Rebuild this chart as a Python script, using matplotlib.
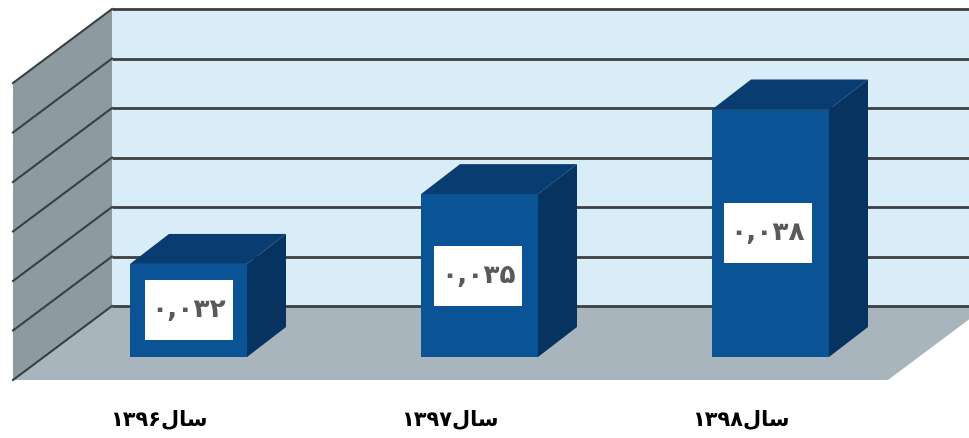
"""Pseudo-3D bar chart with three yearly values on a light blue wall."""

import numpy as np
import matplotlib
matplotlib.use("Agg")
import matplotlib.pyplot as plt
from matplotlib.patches import Polygon, Rectangle


# Persian text is written in visual order with presentation forms,
# because matplotlib does not shape Arabic script by itself.
YEAR_WORD = "\ufedd\ufe8e\ufeb3"
year_labels = ["۱۳۹۶", "۱۳۹۷", "۱۳۹۸"]
value_labels = ["۰,۰۳۲", "۰,۰۳۵", "۰,۰۳۸"]
# Bar heights as drawn, in gridline steps. They are not linear in the labels.
bar_heights = [1.88, 3.29, 5.0]
grid_levels = [0, 1, 2, 3, 4, 5, 6]

# Axes scale: one category = 291 px, one gridline step = 49.5 px.
X_UNIT, Y_UNIT = 291.0, 49.5
WIDTH, HEIGHT = 970, 438
BASE_X, BASE_Y = 188.5, 357.0

BAR_WIDTH = 117 / X_UNIT
BAR_DX, BAR_DY = 39 / X_UNIT, 30 / Y_UNIT
FLOOR_FRONT = (BASE_Y - 380) / Y_UNIT
FLOOR_BACK = (BASE_Y - 306) / Y_UNIT
WALL_LEFT = (13 - BASE_X) / X_UNIT
WALL_BACK = (112 - BASE_X) / X_UNIT
FLOOR_RIGHT = (888 - BASE_X) / X_UNIT
WALL_DX = WALL_BACK - WALL_LEFT
BOX_W, BOX_H = 88 / X_UNIT, 60 / Y_UNIT
BOX_DRIFT = 1.25 / X_UNIT  # white boxes sit a little left of the bar centres

BACK_COLOR = "#d9edf9"
SIDE_WALL_COLOR = "#8d9ba1"
FLOOR_COLOR = "#a8b5bc"
GRID_COLOR = "#3b3f42"
BAR_FRONT = "#0a5395"
BAR_TOP = "#093d72"
BAR_SIDE = "#06335f"
VALUE_COLOR = "#595959"

plt.rcParams["font.family"] = ["DejaVu Sans"]

fig = plt.figure(figsize=(WIDTH / 100, HEIGHT / 100), dpi=100)
ax = fig.add_axes([0, 0, 1, 1])
ax.set_xlim(-BASE_X / X_UNIT, (WIDTH - BASE_X) / X_UNIT)
ax.set_ylim((BASE_Y - HEIGHT) / Y_UNIT, BASE_Y / Y_UNIT)
ax.axis("off")

positions = np.arange(len(bar_heights))
wall_top = FLOOR_BACK + grid_levels[-1]
wall_height = wall_top - FLOOR_BACK

# walls and floor
ax.add_patch(Rectangle((WALL_BACK, FLOOR_BACK), FLOOR_RIGHT + WALL_DX - WALL_BACK,
                       wall_height, fc=BACK_COLOR, ec="none", zorder=1))
ax.add_patch(Polygon([(WALL_LEFT, FLOOR_FRONT), (WALL_BACK, FLOOR_BACK),
                      (WALL_BACK, wall_top), (WALL_LEFT, FLOOR_FRONT + grid_levels[-1])],
                     fc=SIDE_WALL_COLOR, ec="none", zorder=1))
ax.add_patch(Polygon([(WALL_LEFT, FLOOR_FRONT), (WALL_BACK, FLOOR_BACK),
                      (FLOOR_RIGHT + WALL_DX, FLOOR_BACK), (FLOOR_RIGHT, FLOOR_FRONT)],
                     fc=FLOOR_COLOR, ec="none", zorder=1))

for level in grid_levels:
    y_back = FLOOR_BACK + level
    y_front = FLOOR_FRONT + level
    ax.plot([WALL_BACK, FLOOR_RIGHT + WALL_DX], [y_back, y_back],
            color=GRID_COLOR, lw=2.0, solid_capstyle="butt", zorder=2)
    ax.plot([WALL_LEFT, WALL_BACK], [y_front, y_back],
            color=GRID_COLOR, lw=1.5, zorder=2)

# bars
ax.bar(positions, bar_heights, width=BAR_WIDTH, color=BAR_FRONT, zorder=4)
for pos, height, year, value in zip(positions, bar_heights, year_labels, value_labels):
    left, right = pos - BAR_WIDTH / 2, pos + BAR_WIDTH / 2
    ax.add_patch(Polygon([(left, height), (right, height),
                          (right + BAR_DX, height + BAR_DY), (left + BAR_DX, height + BAR_DY)],
                         fc=BAR_TOP, ec="none", zorder=3))
    ax.add_patch(Polygon([(right, 0), (right + BAR_DX, BAR_DY),
                          (right + BAR_DX, height + BAR_DY), (right, height)],
                         fc=BAR_SIDE, ec="none", zorder=3))

    box_x = pos - BOX_DRIFT * pos
    ax.add_patch(Rectangle((box_x - BOX_W / 2, height / 2 - BOX_H / 2), BOX_W, BOX_H,
                           fc="white", ec="none", zorder=5))
    ax.text(box_x, height / 2, value, color=VALUE_COLOR, fontsize=19, fontweight="bold",
            ha="center", va="center", zorder=6)
    ax.text(pos - 29.5 / X_UNIT, (BASE_Y - 419) / Y_UNIT, year + YEAR_WORD, color="black",
            fontsize=15, fontweight="bold", ha="center", va="center", zorder=6)

fig.savefig("out.png", dpi=100)
